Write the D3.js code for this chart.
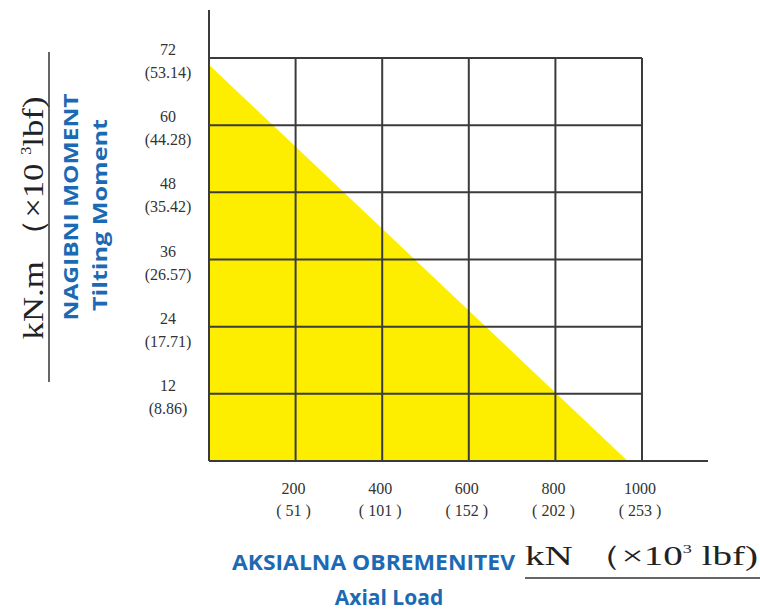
<!DOCTYPE html>
<html>
<head>
<meta charset="utf-8">
<script src="https://cdn.jsdelivr.net/npm/d3@7"></script>
<style>
  body { margin: 0; background: #fff; }
  svg { display: block; }
</style>
</head>
<body>
<div id="chart"></div>
<script>
// tick values and labels
const axialTicks = [200, 400, 600, 800, 1000]
const axialLbf = ["( 51 )", "( 101 )", "( 152 )", "( 202 )", "( 253 )"]
const momentTicks = [12, 24, 36, 48, 60, 72]
const momentLbf = ["(8.86)", "(17.71)", "(26.57)", "(35.42)", "(44.28)", "(53.14)"]

// load limit curve (kN, kN.m)
const curveAxial = [0, 0, 967]
const curveMoment = [0, 70.8, 0]

const W = 760, H = 613
const BLUE = "#1b6ab3"
const GRID = "#3b3b3b"

const svg = d3.select("#chart")
	.append("svg")
		.attr("width", W)
		.attr("height", H)

const x = d3.scaleLinear()
	.domain([0, 1000])
	.range([209, 642])

const y = d3.scaleLinear()
	.domain([0, 72])
	.range([461, 58])

// yellow area
const pts = curveAxial.map((a, i) => [x(a), y(curveMoment[i])])
svg.append("polygon")
	.attr("points", pts.map(p => p.join(",")).join(" "))
	.attr("fill", "#fdee00")

// grid
svg.selectAll(".vgrid")
	.data(axialTicks)
	.enter().append("line")
	.attr("x1", d => x(d)).attr("x2", d => x(d))
	.attr("y1", y(0)).attr("y2", y(72))
	.attr("stroke", GRID)
	.attr("stroke-width", 2)

svg.selectAll(".hgrid")
	.data(momentTicks)
	.enter().append("line")
	.attr("x1", x(0)).attr("x2", x(1000))
	.attr("y1", d => y(d)).attr("y2", d => y(d))
	.attr("stroke", GRID)
	.attr("stroke-width", 2)

// axes
svg.append("line")
	.attr("x1", x(0)).attr("x2", 708)
	.attr("y1", y(0)).attr("y2", y(0))
	.attr("stroke", GRID).attr("stroke-width", 2)
svg.append("line")
	.attr("x1", x(0)).attr("x2", x(0))
	.attr("y1", y(0)).attr("y2", 10)
	.attr("stroke", GRID).attr("stroke-width", 2)

// y tick labels
const yl = svg.selectAll(".ylab")
	.data(momentTicks)
	.enter().append("text")
	.attr("text-anchor", "middle")
	.attr("font-family", "Liberation Serif")
	.attr("font-size", 16)
	.attr("fill", "#333")
yl.append("tspan")
	.attr("x", 168)
	.attr("y", d => y(d) - 3)
	.text(d => d)
yl.append("tspan")
	.attr("x", 168)
	.attr("y", d => y(d) + 20)
	.text((d, i) => momentLbf[i])

// x tick labels
const xl = svg.selectAll(".xlab")
	.data(axialTicks)
	.enter().append("text")
	.attr("text-anchor", "middle")
	.attr("font-family", "Liberation Serif")
	.attr("font-size", 16)
	.attr("fill", "#333")
xl.append("tspan")
	.attr("x", d => x(d) - 2)
	.attr("y", 494)
	.text(d => d)
xl.append("tspan")
	.attr("x", d => x(d) - 2)
	.attr("y", 516)
	.text((d, i) => axialLbf[i])

// y unit
const yu = svg.append("text")
	.attr("transform", "translate(43,218) rotate(-90)")
	.attr("text-anchor", "middle")
	.attr("font-family", "Liberation Serif")
	.attr("font-size", 30)
	.attr("fill", "#222")
	.attr("textLength", 243)
	.attr("lengthAdjust", "spacingAndGlyphs")
yu.append("tspan").text("kN.m （×10 ")
yu.append("tspan").attr("font-size", 14).attr("dy", -12).text("3")
yu.append("tspan").attr("dy", 12).text("lbf)")
svg.append("line")
	.attr("x1", 49).attr("x2", 49)
	.attr("y1", 52).attr("y2", 382)
	.attr("stroke", "#333").attr("stroke-width", 1.5)

// y titles
svg.append("text")
	.attr("transform", "translate(78,207) rotate(-90)")
	.attr("text-anchor", "middle")
	.attr("font-family", "Open Sans")
	.attr("font-weight", "bold")
	.attr("font-size", 20)
	.attr("fill", BLUE)
	.attr("textLength", 227)
	.attr("lengthAdjust", "spacingAndGlyphs")
	.text("NAGIBNI MOMENT")
svg.append("text")
	.attr("transform", "translate(107,215) rotate(-90)")
	.attr("text-anchor", "middle")
	.attr("font-family", "Open Sans")
	.attr("font-weight", "bold")
	.attr("font-size", 20)
	.attr("fill", BLUE)
	.attr("textLength", 192)
	.attr("lengthAdjust", "spacingAndGlyphs")
	.text("Tilting Moment")

// x titles
svg.append("text")
	.attr("x", 232).attr("y", 570)
	.attr("font-family", "Open Sans")
	.attr("font-weight", "bold")
	.attr("font-size", 21)
	.attr("fill", BLUE)
	.attr("textLength", 283)
	.attr("lengthAdjust", "spacingAndGlyphs")
	.text("AKSIALNA OBREMENITEV")
svg.append("text")
	.attr("x", 389).attr("y", 605)
	.attr("text-anchor", "middle")
	.attr("font-family", "Open Sans")
	.attr("font-weight", "bold")
	.attr("font-size", 21)
	.attr("fill", BLUE)
	.text("Axial Load")

// x unit
const xu = svg.append("text")
	.attr("x", 525).attr("y", 565)
	.attr("font-family", "Liberation Serif")
	.attr("font-size", 28)
	.attr("fill", "#222")
	.attr("textLength", 233)
	.attr("lengthAdjust", "spacingAndGlyphs")
xu.append("tspan").text("kN  （×10")
xu.append("tspan").attr("font-size", 13).attr("dy", -12).text("3")
xu.append("tspan").attr("dy", 12).text(" lbf)")
svg.append("line")
	.attr("x1", 525).attr("x2", 760)
	.attr("y1", 578).attr("y2", 578)
	.attr("stroke", "#333").attr("stroke-width", 1.5)
</script>
</body>
</html>
